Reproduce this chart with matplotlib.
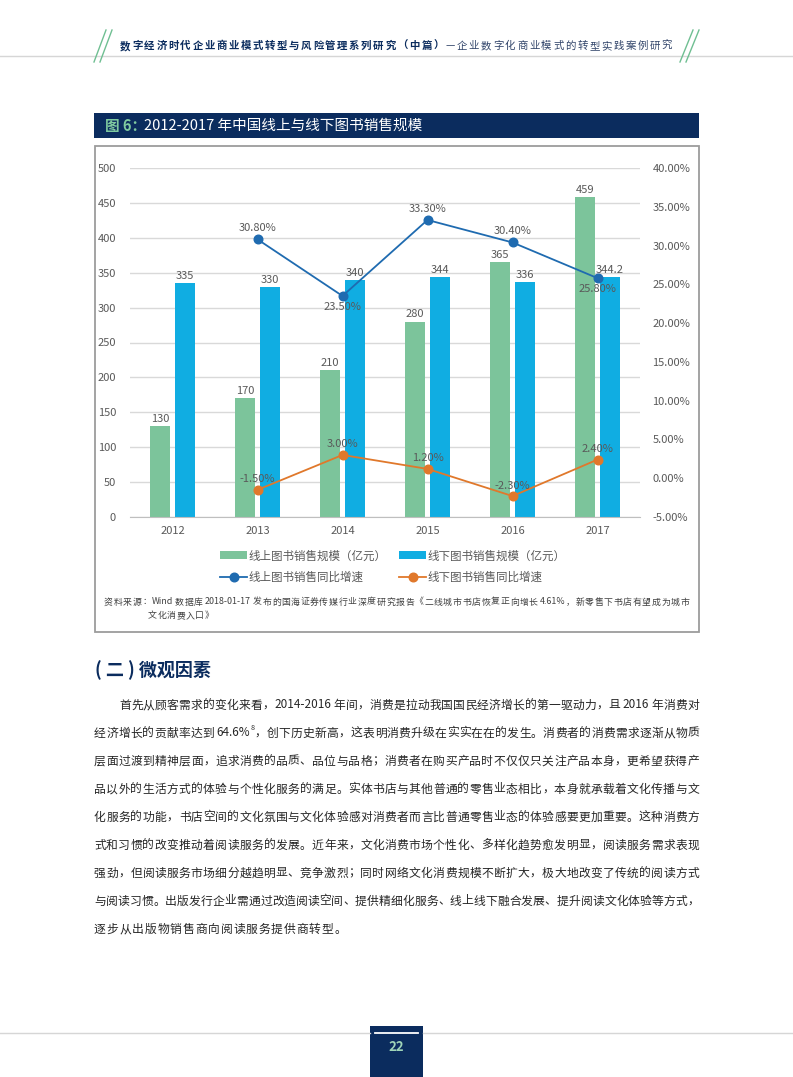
import matplotlib
matplotlib.use('Agg')
import matplotlib.pyplot as plt
import numpy as np
from matplotlib.patches import Rectangle
from matplotlib.lines import Line2D

plt.rcParams['font.family'] = ['Noto Sans CJK SC', 'DejaVu Sans']

# ---------------- data ----------------
years = ['2012', '2013', '2014', '2015', '2016', '2017']
online_sales = [130, 170, 210, 280, 365, 459]
offline_sales = [335, 330, 340, 344, 336, 344.2]
online_growth = [np.nan, 30.8, 23.5, 33.3, 30.4, 25.8]
offline_growth = [np.nan, -1.5, 3.0, 1.2, -2.3, 2.4]
left_ticks = [0, 50, 100, 150, 200, 250, 300, 350, 400, 450, 500]
right_ticks = [-5, 0, 5, 10, 15, 20, 25, 30, 35, 40]
series_names = ['线上图书销售规模（亿元）', '线下图书销售规模（亿元）',
                '线上图书销售同比增速', '线下图书销售同比增速']
online_label_side = ['above', 'above', 'below', 'above', 'above', 'below']

header_bold = '数字经济时代企业商业模式转型与风险管理系列研究（中篇）'
header_rest = '—企业数字化商业模式的转型实践案例研究'
fig_title_num = '图 6：'
fig_title = '2012-2017 年中国线上与线下图书销售规模'
source_line1 = '资料来源：Wind 数据库 2018-01-17 发布的国海证券传媒行业深度研究报告《二线城市书店恢复正向增长 4.61%，新零售下书店有望成为城市'
source_line2 = '文化消费入口》'
section_heading = '( 二 ) 微观因素'
body_lines = [
    [('首先从顾客需求的变化来看，2014-2016 年间，消费是拉动我国国民经济增长的第一驱动力，且 2016 年消费对', {})],
    [('经济增长的贡献率达到 64.6%', {}), ('8', {'sup': True}),
     ('，创下历史新高，这表明消费升级在实实在在的发生。消费者的消费需求逐渐从物质', {})],
    [('层面过渡到精神层面，追求消费的品质、品位与品格；消费者在购买产品时不仅仅只关注产品本身，更希望获得产', {})],
    [('品以外的生活方式的体验与个性化服务的满足。实体书店与其他普通的零售业态相比，本身就承载着文化传播与文', {})],
    [('化服务的功能，书店空间的文化氛围与文化体验感对消费者而言比普通零售业态的体验感要更加重要。这种消费方', {})],
    [('式和习惯的改变推动着阅读服务的发展。近年来，文化消费市场个性化、多样化趋势愈发明显，阅读服务需求表现', {})],
    [('强劲，但阅读服务市场细分越趋明显、竞争激烈；同时网络文化消费规模不断扩大，极大地改变了传统的阅读方式', {})],
    [('与阅读习惯。出版发行企业需通过改造阅读空间、提供精细化服务、线上线下融合发展、提升阅读文化体验等方式，', {})],
    [('逐步从出版物销售商向阅读服务提供商转型。', {})],
]
page_number = '22'

# ---------------- styles ----------------
W, H = 793, 1077
navy = '#0b2c5e'
green_bar = '#7cc49b'
blue_bar = '#10ade2'
line_blue = '#1f6bb0'
orange = '#e0782b'
gray_txt = '#595959'
accent_green = '#6fbf92'
fs_chart = 8.0

fig = plt.figure(figsize=(W / 100, H / 100), dpi=100)
bg = fig.add_axes([0, 0, 1, 1], zorder=-1)
bg.set_xlim(0, W)
bg.set_ylim(H, 0)
bg.axis('off')
renderer = fig.canvas.get_renderer()


def tokens_of(s):
    toks, buf = [], ''
    for ch in s:
        if ord(ch) < 128 and ch != ' ':
            buf += ch
        else:
            if buf:
                toks.append(buf)
                buf = ''
            toks.append(ch)
    if buf:
        toks.append(buf)
    return toks


def layout(segments, x0, x1, y, fontsize, color, weight='normal', justify=True, gap=0.0):
    items = []
    for text, opts in segments:
        fs = fontsize * (0.6 if opts.get('sup') else 1.0)
        dy = -fontsize * 0.55 if opts.get('sup') else 0
        col = opts.get('color', color)
        wt = opts.get('weight', weight)
        for i, tk in enumerate(tokens_of(text)):
            if tk == ' ':
                items.append([None, fontsize * 100 / 72 * 0.22, False, True])
                continue
            t = bg.text(0, y + dy, tk, fontsize=fs, color=col, fontweight=wt,
                        ha='left', va='center')
            w = t.get_window_extent(renderer).width
            items.append([t, w, bool(opts.get('sup')) and i == 0, False])
    total = sum(it[1] for it in items)
    flags = []
    for k in range(1, len(items)):
        tight = items[k][2] or items[k][3] or items[k - 1][3]
        flags.append(not tight)
    ngaps = max(sum(flags), 1)
    extra = (x1 - x0 - total) / ngaps if justify else gap
    x = x0
    for k, (t, w, _, _) in enumerate(items):
        if k > 0 and flags[k - 1]:
            x += extra
        if t is not None:
            t.set_x(x)
        x += w


# ---------------- page header ----------------
bg.plot([0, W], [56, 56], color='#d6d6d6', lw=1)
for xa, xb in [(94, 106), (100, 112), (680, 693), (686, 699)]:
    bg.plot([xa, xb], [62, 30], color=accent_green, lw=1)
layout([(header_bold, {'weight': 'bold', 'color': navy}),
        (header_rest, {'color': '#33466b'})], 120, 672, 46, 7.5, navy)

# ---------------- figure title bar ----------------
bg.add_patch(Rectangle((94, 113), 605, 24.5, facecolor=navy, edgecolor='none'))
t1 = bg.text(105, 125.5, fig_title_num, fontsize=10.5, color='#7fcaa0',
             fontweight='bold', ha='left', va='center')
w1 = t1.get_window_extent(renderer).width
bg.text(105 + w1 - 2, 125.5, fig_title, fontsize=10.5, color='white',
        ha='left', va='center')

# chart frame
bg.add_patch(Rectangle((94.5, 145.5), 604, 486.5, facecolor='none',
                       edgecolor='#9c9c9c', lw=1.3))

# ---------------- chart ----------------
ax = fig.add_axes([130 / W, 1 - 517 / H, 510 / W, 349 / H])
x = np.arange(len(years))
bw, off = 0.232, 0.147
b1 = ax.bar(x - off, online_sales, bw, color=green_bar, zorder=2)
b2 = ax.bar(x + off, offline_sales, bw, color=blue_bar, zorder=2)
ax.set_xlim(-0.5, len(years) - 0.5)
ax.set_ylim(left_ticks[0], left_ticks[-1])
ax.set_yticks(left_ticks)
ax.set_xticks(x)
ax.set_xticklabels(years)
ax.yaxis.grid(True, color='#d9d9d9', lw=1)
ax.set_axisbelow(True)
for s in ['left', 'right', 'top']:
    ax.spines[s].set_visible(False)
ax.spines['bottom'].set_color('#bfbfbf')
ax.tick_params(axis='both', length=0, labelsize=fs_chart, labelcolor=gray_txt)
ax.tick_params(axis='x', pad=6.5)
ax.tick_params(axis='y', pad=10)

for xi, v in zip(x - off, online_sales):
    ax.annotate(f'{v:g}', (xi, v), xytext=(0, 1.5), textcoords='offset points',
                ha='center', va='bottom', fontsize=fs_chart, color=gray_txt)
for xi, v in zip(x + off, offline_sales):
    ax.annotate(f'{v:g}', (xi, v), xytext=(0, 1.5), textcoords='offset points',
                ha='center', va='bottom', fontsize=fs_chart, color=gray_txt)

ax2 = ax.twinx()
ax2.set_ylim(right_ticks[0], right_ticks[-1])
ax2.set_yticks(right_ticks)
ax2.set_yticklabels([f'{v:.2f}%' for v in right_ticks])
for s in ax2.spines.values():
    s.set_visible(False)
ax2.tick_params(axis='y', length=0, labelsize=fs_chart, labelcolor=gray_txt, pad=9)
l1, = ax2.plot(x, online_growth, color=line_blue, lw=1.3, marker='o', ms=6.2, zorder=3)
l2, = ax2.plot(x, offline_growth, color=orange, lw=1.3, marker='o', ms=6.2, zorder=3)

for xi, v, side in zip(x, online_growth, online_label_side):
    if np.isnan(v):
        continue
    if side == 'above':
        ax2.annotate(f'{v:.2f}%', (xi, v), xytext=(0, 4.5), textcoords='offset points',
                     ha='center', va='bottom', fontsize=fs_chart, color=gray_txt)
    else:
        ax2.annotate(f'{v:.2f}%', (xi, v), xytext=(0, -4.5), textcoords='offset points',
                     ha='center', va='top', fontsize=fs_chart, color=gray_txt)
for xi, v in zip(x, offline_growth):
    if np.isnan(v):
        continue
    ax2.annotate(f'{v:.2f}%', (xi, v), xytext=(0, 4), textcoords='offset points',
                 ha='center', va='bottom', fontsize=fs_chart, color=gray_txt)

leg = fig.legend([b1, l1, b2, l2],
                 [series_names[0], series_names[2], series_names[1], series_names[3]],
                 ncol=2, loc='center', bbox_to_anchor=(393 / W, 1 - 566.5 / H),
                 frameon=False, fontsize=8.3, handlelength=2.3, handletextpad=0.15,
                 columnspacing=1.1, labelspacing=0.7, labelcolor=gray_txt)

# source note
layout([(source_line1, {})], 104, 689, 602, 6.4, '#404040')
layout([(source_line2, {})], 148, 148, 615.5, 6.4, '#404040', justify=False, gap=0.6)

# ---------------- body ----------------
bg.text(95, 670, section_heading, fontsize=13, fontweight='bold', color=navy,
        ha='left', va='center')
y0, dy = 705, 28
for i, segs in enumerate(body_lines):
    xs = 119 if i == 0 else 94
    last = i == len(body_lines) - 1
    layout(segs, xs, 699, y0 + i * dy, 8.5, '#262626', justify=not last, gap=0.9)

# ---------------- footer ----------------
bg.plot([0, 370], [1033, 1033], color='#d6d6d6', lw=1)
bg.plot([423, W], [1033, 1033], color='#d6d6d6', lw=1)
bg.add_patch(Rectangle((370, 1026), 53, 51, facecolor=navy, edgecolor='none'))
bg.plot([375, 418], [1033, 1033], color='white', lw=1.3)
bg.text(396.5, 1047, page_number, fontsize=9.5, fontweight='bold', color='#9fd4b8',
        ha='center', va='center')

fig.savefig('out.png', dpi=100)
